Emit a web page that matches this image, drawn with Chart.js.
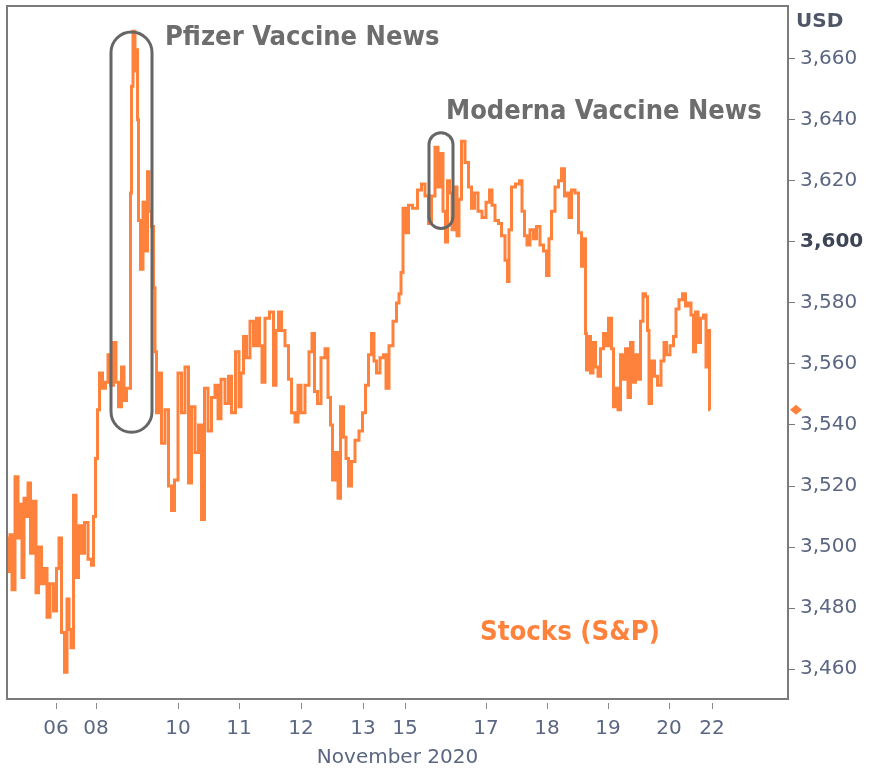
<!DOCTYPE html>
<html>
<head>
<meta charset="utf-8">
<script src="https://cdn.jsdelivr.net/npm/chart.js@4.4.0/dist/chart.umd.min.js"></script>
<style>
  html, body { margin: 0; padding: 0; background: #fff; }
  #wrap { width: 872px; height: 775px; }
</style>
</head>
<body>
<div id="wrap"><canvas id="spxChart" width="872" height="775"></canvas></div>
<script>
// time offset of each reading (intraday bars since the open of Nov 5)
const bars = [
  0,1,3,5,9,11,13,15,17,19, 21,24,27,29,32,35,38,40,44,47,
  50,52,55,58,60,62,64,67,69,72, 75,78,82,85,86,89,90,93,96,99,
  101,104,107,109,112,115,117,120,122,123, 124,126,128,129,130,131,134,136,139,140,
  142,145,146,148,149,152,155,159,162,165, 168,172,175,179,182,185,189,192,195,198,
  202,205,209,211,215,219,222,225,230,232, 234,237,240,244,247,250,253,255,259,264,
  267,269,272,275,279,282,285,289,291,295, 299,303,305,308,311,315,319,321,324,325,
  329,331,334,337,339,342,345,349,353,356, 359,362,365,367,370,374,377,379,383,387,
  390,392,394,396,399,402,407,412,415,419, 422,425,429,431,434,436,439,440,443,445,
  448,450,452,455,459,462,465,468,472,476, 480,483,485,489,492,495,499,500,502,505,
  510,513,515,518,520,524,527,530,534,537, 540,542,545,549,552,555,558,560,562,565,
  569,572,575,577,578,579,581,584,586,589, 591,594,597,599,602,605,606,609,611,614,
  616,619,621,624,626,629,631,634,636,639, 640,642,645,648,651,655,657,660,664,667,
  669,673,676,679,681,685,686,689,691,694, 697,699,701,702
];

// S&P 500 level, USD
const prices = [
  3503,3492,3504,3486,3523,3503,3514,3490,3516,3510, 3521,3498,3515,3485,3500,3488,3493,3477,3488,3479,
  3493,3503,3472,3459,3483,3473,3467,3517,3490,3507, 3498,3508,3496,3494,3510,3529,3545,3557,3552,3554,
  3563,3553,3567,3554,3546,3559,3548,3552,3552,3616, 3651,3669,3656,3663,3640,3607,3591,3613,3597,3623,
  3610,3605,3585,3564,3544,3557,3534,3545,3520,3512, 3522,3557,3544,3559,3521,3546,3531,3540,3509,3552,
  3538,3549,3553,3542,3555,3547,3556,3544,3564,3546, 3557,3569,3562,3574,3566,3575,3566,3554,3575,3577,
  3553,3571,3577,3571,3566,3555,3544,3541,3553,3544, 3553,3564,3570,3551,3547,3562,3565,3549,3540,3522,
  3531,3516,3546,3536,3529,3520,3528,3535,3538,3544, 3553,3563,3570,3561,3557,3562,3563,3552,3566,3574,
  3580,3583,3590,3611,3603,3612,3611,3617,3619,3615, 3606,3615,3631,3618,3629,3610,3600,3620,3616,3604,
  3618,3602,3614,3633,3626,3618,3611,3616,3610,3608, 3613,3617,3612,3607,3606,3602,3594,3587,3604,3618,
  3619,3620,3610,3602,3599,3604,3601,3605,3599,3597, 3589,3601,3610,3618,3620,3624,3615,3616,3608,3617,
  3616,3603,3592,3601,3570,3558,3569,3557,3567,3559, 3556,3565,3570,3566,3575,3565,3546,3552,3545,3563,
  3555,3565,3549,3567,3554,3563,3555,3574,3583,3582, 3571,3547,3561,3556,3553,3561,3567,3563,3566,3569,
  3578,3581,3583,3579,3580,3576,3564,3577,3567,3575, 3576,3559,3571,3545
];

const xTickBars = [48, 88, 170, 231, 293, 355, 397, 478, 539, 600, 661, 704];
const xTickLabels = ['06', '08', '10', '11', '12', '13', '15', '17', '18', '19', '20', '22'];
const yTicks = [3460, 3480, 3500, 3520, 3540, 3560, 3580, 3600, 3620, 3640, 3660];

// highlighted news windows: [from bar, to bar, low, high]
const pfizerBox = [103, 144, 3537.6, 3668.8];
const modernaBox = [421, 445, 3604.4, 3635.8];

const ORANGE = '#ff823c';
const AXIS_TEXT = '#5b6782';
const NOTE_GREY = '#6d6d6d';

Chart.defaults.font.family = '"DejaVu Sans", Verdana, sans-serif';

function isBold(c) {
  return !!(c && c.tick && c.tick.value === 3600);
}

function stadium(ctx, x0, y0, x1, y1) {
  const r = (x1 - x0) / 2;
  ctx.beginPath();
  ctx.moveTo(x0, y0 + r);
  ctx.arc(x0 + r, y0 + r, r, Math.PI, 0);
  ctx.lineTo(x1, y1 - r);
  ctx.arc(x0 + r, y1 - r, r, 0, Math.PI);
  ctx.closePath();
  ctx.stroke();
}

function fitText(ctx, text, x, yMid, width, color) {
  const fam = '"DejaVu Sans Condensed", "DejaVu Sans", sans-serif';
  ctx.font = 'bold 20px ' + fam;
  const size = 20 * width / ctx.measureText(text).width;
  ctx.font = 'bold ' + size.toFixed(1) + 'px ' + fam;
  ctx.fillStyle = color;
  ctx.textAlign = 'left';
  ctx.textBaseline = 'middle';
  ctx.fillText(text, x, yMid);
}

const overlay = {
  id: 'overlay',
  afterDraw(chart) {
    const { ctx, chartArea: a, scales: { x, y } } = chart;
    ctx.save();

    // frame
    ctx.strokeStyle = '#7b7b7b';
    ctx.lineWidth = 2;
    ctx.strokeRect(a.left, a.top, a.right - a.left, a.bottom - a.top);

    // x tick marks, a little below the frame
    ctx.lineWidth = 1;
    ctx.strokeStyle = '#8a8a8a';
    xTickBars.forEach(b => {
      const px = Math.round(x.getPixelForValue(b)) + 0.5;
      ctx.beginPath();
      ctx.moveTo(px, a.bottom + 4);
      ctx.lineTo(px, a.bottom + 10);
      ctx.stroke();
    });

    // news boxes
    ctx.strokeStyle = '#666666';
    ctx.lineWidth = 3;
    [pfizerBox, modernaBox].forEach(bx => {
      stadium(ctx, x.getPixelForValue(bx[0]), y.getPixelForValue(bx[3]),
                   x.getPixelForValue(bx[1]), y.getPixelForValue(bx[2]));
    });

    // annotations
    fitText(ctx, 'Pfizer Vaccine News', 165, 38, 275, NOTE_GREY);
    fitText(ctx, 'Moderna Vaccine News', 446, 112, 316, NOTE_GREY);
    fitText(ctx, 'Stocks (S&P)', 480, 633, 180, ORANGE);

    // unit label
    ctx.font = 'bold 20px "DejaVu Sans", sans-serif';
    ctx.fillStyle = '#4f5666';
    ctx.textAlign = 'left';
    ctx.textBaseline = 'middle';
    ctx.fillText('USD', 796, 22);

    // last value marker on the axis
    const last = prices[prices.length - 1];
    const my = y.getPixelForValue(last);
    const mx = a.right + 8;
    ctx.fillStyle = ORANGE;
    ctx.beginPath();
    ctx.moveTo(mx - 6, my);
    ctx.lineTo(mx, my - 5);
    ctx.lineTo(mx + 6, my);
    ctx.lineTo(mx, my + 5);
    ctx.closePath();
    ctx.fill();

    ctx.restore();
  }
};

const ctx = document.getElementById('spxChart').getContext('2d');
const spxChart = new Chart(ctx, {
  type: 'line',
  data: {
    datasets: [{
      label: 'Stocks (S&P)',
      data: bars.map((b, i) => ({ x: b, y: prices[i] })),
      borderColor: ORANGE,
      borderWidth: 3,
      stepped: 'middle',
      pointRadius: 0,
      tension: 0,
      fill: false
    }]
  },
  options: {
    responsive: false,
    animation: false,
    devicePixelRatio: 1,
    layout: { padding: { left: 7, top: 6, right: 0, bottom: 0 } },
    plugins: {
      legend: { display: false },
      tooltip: { enabled: false }
    },
    scales: {
      x: {
        type: 'linear',
        min: -1,
        max: 780,
        afterBuildTicks: s => { s.ticks = xTickBars.map(v => ({ value: v })); },
        afterFit: s => { s.height = 76; s.paddingLeft = 0; s.paddingRight = 0; },
        grid: { display: false },
        border: { display: false },
        ticks: {
          autoSkip: false,
          maxRotation: 0,
          padding: 10,
          color: AXIS_TEXT,
          font: { size: 20 },
          callback: (v, i) => xTickLabels[i]
        },
        title: {
          display: true,
          text: 'November 2020',
          color: AXIS_TEXT,
          font: { size: 20 },
          padding: { top: 0, bottom: 5 }
        }
      },
      y: {
        position: 'right',
        min: 3450.2,
        max: 3677.3,
        afterBuildTicks: s => { s.ticks = yTicks.map(v => ({ value: v })); },
        afterFit: s => { s.width = 84; s.paddingTop = 0; s.paddingBottom = 0; },
        grid: { drawOnChartArea: false, color: '#777777', tickLength: 7 },
        border: { display: false },
        ticks: {
          padding: 5,
          color: c => isBold(c) ? '#3c4456' : AXIS_TEXT,
          font: c => ({ size: 20, weight: isBold(c) ? 'bold' : 'normal' }),
          callback: v => v.toLocaleString('en-US')
        }
      }
    }
  },
  plugins: [overlay]
});
</script>
</body>
</html>
